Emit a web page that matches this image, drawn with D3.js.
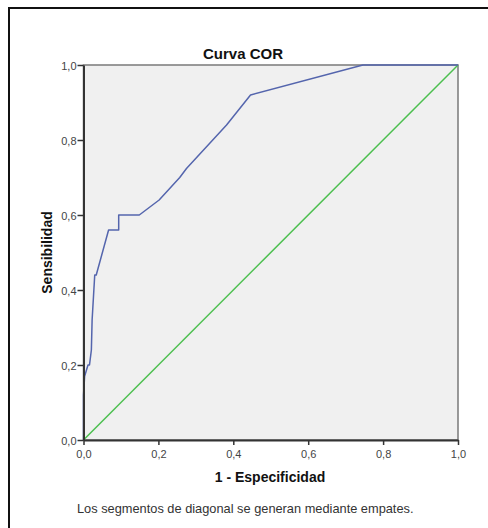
<!DOCTYPE html>
<html lang="es">
<head>
<meta charset="UTF-8">
<script src="https://d3js.org/d3.v7.min.js"></script>
<style>
  html, body { margin: 0; padding: 0; background: #fff; }
  svg { display: block; font-family: "Liberation Sans", Arial, sans-serif; }
</style>
</head>
<body>
<div id="chart"></div>
<script>
// ROC curve points
var fpr = [0, 0, 0.003, 0.012, 0.016, 0.021, 0.023, 0.030, 0.034, 0.067, 0.094, 0.094, 0.149, 0.202, 0.257, 0.275, 0.382, 0.446, 0.746, 1];
var tpr = [0, 0.12, 0.17, 0.20, 0.20, 0.24, 0.32, 0.44, 0.44, 0.56, 0.56, 0.60, 0.60, 0.64, 0.70, 0.724, 0.84, 0.92, 1, 1];
var refLine = [0, 1];
var tickValues = [0, 0.2, 0.4, 0.6, 0.8, 1.0];

var title = "Curva COR";
var xTitle = "1 - Especificidad";
var yTitle = "Sensibilidad";
var footnote = "Los segmentos de diagonal se generan mediante empates.";

var W = 488, H = 528;
var svg = d3.select("#chart").append("svg").attr("width", W).attr("height", H);

// outer frame (only top and left show in the picture)
svg.append("rect")
    .attr("x", 9).attr("y", 8)
    .attr("width", 500).attr("height", 540)
    .attr("fill", "none").attr("stroke", "#111").attr("stroke-width", 2);

var x = d3.scaleLinear().domain([0, 1]).range([83.5, 458]);
var y = d3.scaleLinear().domain([0, 1]).range([440, 65]);

var fmt = function (d) { return d3.format(".1f")(d).replace(".", ","); };

// plot area
svg.append("rect")
    .attr("x", x(0)).attr("y", y(1))
    .attr("width", x(1) - x(0)).attr("height", y(0) - y(1))
    .attr("fill", "#f0f0f0")
    .attr("stroke", "#7a7a7a").attr("stroke-width", 1.5);

// reference diagonal
svg.append("path")
    .datum(refLine)
    .attr("d", d3.line().x(function (d) { return x(d); }).y(function (d) { return y(d); }))
    .attr("fill", "none").attr("stroke", "#4cbf4f").attr("stroke-width", 1.5);

// roc curve
var pts = fpr.map(function (f, i) { return [f, tpr[i]]; });
svg.append("path")
    .datum(pts)
    .attr("d", d3.line().x(function (d) { return x(d[0]); }).y(function (d) { return y(d[1]); }))
    .attr("fill", "none").attr("stroke", "#5465ad").attr("stroke-width", 1.5)
    .attr("stroke-linejoin", "round");

// axes
var xAxis = svg.append("g")
    .attr("transform", "translate(0," + y(0) + ")")
    .call(d3.axisBottom(x).tickValues(tickValues).tickFormat(fmt).tickSize(5).tickSizeOuter(0));
var yAxis = svg.append("g")
    .attr("transform", "translate(" + x(0) + ",0)")
    .call(d3.axisLeft(y).tickValues(tickValues).tickFormat(fmt).tickSize(6).tickSizeOuter(0));

[xAxis, yAxis].forEach(function (g) {
    g.select(".domain").attr("stroke", "#333").attr("stroke-width", 2);
    g.selectAll(".tick line").attr("stroke", "#333").attr("stroke-width", 1.5);
    g.selectAll(".tick text")
        .attr("fill", "#444")
        .style("font-size", "11px")
        .style("font-family", "'Liberation Sans', Arial, sans-serif");
});
xAxis.selectAll(".tick text").attr("dy", "0.9em");
yAxis.selectAll(".tick text").attr("x", -7).attr("dy", "0.4em");

// titles
svg.append("text")
    .attr("x", 243).attr("y", 59)
    .attr("text-anchor", "middle")
    .style("font-size", "15px").style("font-weight", "bold")
    .attr("fill", "#111")
    .text(title);

svg.append("text")
    .attr("x", 270).attr("y", 482)
    .attr("text-anchor", "middle")
    .style("font-size", "14px").style("font-weight", "bold")
    .attr("fill", "#111")
    .text(xTitle);

svg.append("text")
    .attr("transform", "translate(52," + (y(0.5)) + ") rotate(-90)")
    .attr("text-anchor", "middle")
    .style("font-size", "14px").style("font-weight", "bold")
    .attr("fill", "#111")
    .text(yTitle);

svg.append("text")
    .attr("x", 77).attr("y", 513)
    .style("font-size", "12.8px")
    .attr("fill", "#333")
    .text(footnote);
</script>
</body>
</html>
